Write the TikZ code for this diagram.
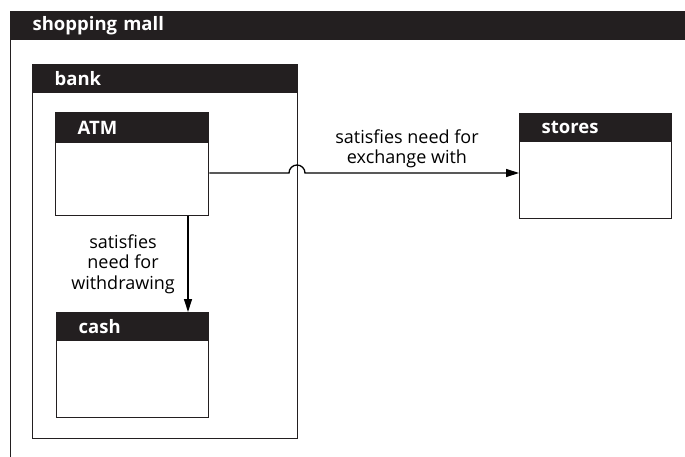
\documentclass[tikz,border=0pt]{standalone}
\usepackage{fontspec}
\setmainfont{Open Sans}
\usepackage{tikz}
\usetikzlibrary{arrows.meta}
\usetikzlibrary{calc}
\definecolor{bar}{HTML}{231F20}

\begin{document}
\begin{tikzpicture}[x=1pt, y=-1pt, line width=1.3pt, >={Triangle[length=13pt,width=8pt]},
    frame/.style = {draw=bar, fill=white, anchor=north west, inner sep=0pt},
    head/.style = {draw=bar, fill=bar, text=white, anchor=north west, minimum height=28pt,
        inner xsep=22pt, inner ysep=0pt, text width=#1, align=left, font=\fontsize{18.5}{20}\selectfont\bfseries},
    note/.style = {align=center, font=\fontsize{18}{20.5}\selectfont}]

    \clip (0,0) rectangle (685,457);
    \useasboundingbox (0,0) rectangle (685,457);

    \node [frame, minimum width=700pt, minimum height=500pt] (mall) at (10,11) {};
    \node [head=656pt] (mall head) at (mall.north west) {shopping mall};

    \node [frame, minimum width=265pt, minimum height=374pt] (bank) at (32,64) {};
    \node [head=221pt] (bank head) at (bank.north west) {bank};

    \node [frame, minimum width=153pt, minimum height=103pt] (atm) at (55,112) {};
    \node [head=109pt, minimum height=30pt] (atm head) at (atm.north west) {ATM};

    \node [frame, minimum width=152pt, minimum height=105pt] (cash) at (56,312) {};
    \node [head=108pt] (cash head) at (cash.north west) {cash};

    \node [frame, minimum width=152pt, minimum height=105pt] (stores) at (519,113) {};
    \node [head=108pt] (stores head) at (stores.north west) {stores};

    \coordinate (hop) at (297,173);
    \coordinate (drop) at (188,0);

    \draw[->] (atm.east |- hop) -- ([xshift=-8pt]hop) arc[start angle=180, end angle=0, radius=8pt] -- (stores.west |- hop);
    \draw[->] (atm.south -| drop) -- (cash.north -| drop);

    \node [note] (swap) at (407,149) {satisfies need for\\exchange with};
    \node [note] (take) at (123,264) {satisfies\\need for\\withdrawing};

\end{tikzpicture}
\end{document}
